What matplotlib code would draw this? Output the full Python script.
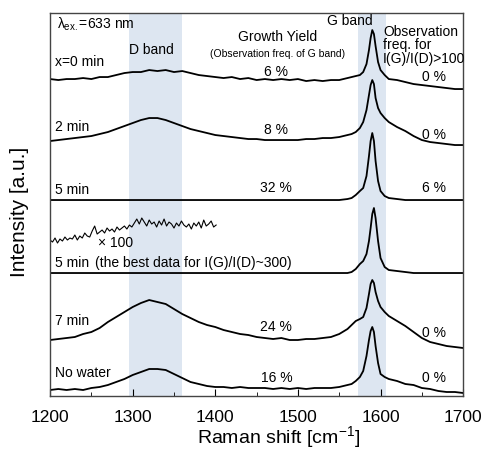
import matplotlib
matplotlib.use("Agg")
import matplotlib.pyplot as plt
from matplotlib.ticker import MultipleLocator

plt.rcParams['font.family'] = ['Liberation Sans', 'DejaVu Sans']
plt.rcParams['mathtext.fontset'] = 'custom'
plt.rcParams['mathtext.rm'] = 'Liberation Sans'
plt.rcParams['mathtext.it'] = 'Liberation Sans'

# Raman shift grid (cm-1), denser around the G band
shift = ([1200 + 10 * i for i in range(37)]
         + [1565, 1570, 1575, 1579, 1583, 1586, 1588, 1590, 1592, 1594, 1597, 1600, 1605, 1610]
         + [1620, 1630, 1640, 1650, 1660, 1670, 1680, 1690, 1700])

# stacked intensities [a.u.]
x0min = [317, 316, 317, 317, 318, 317, 319, 319, 321, 323, 324, 324, 326, 325, 326, 324, 325, 323,
         321, 320, 319, 318, 319, 317, 318, 316, 317, 316, 317, 316, 317, 315, 316, 315, 316, 316, 318,
         319, 320, 321, 324, 332, 346, 358, 366, 362, 350, 334, 326, 321, 317,
         316, 314, 312, 311, 310, 309, 308, 307, 307]
min2 = [255, 256, 257, 258, 259, 260, 262, 264, 267, 270, 273, 276, 278, 278, 276, 273, 270, 267,
        265, 263, 261, 260, 259, 258, 257, 257, 256, 256, 256, 256, 256, 257, 257, 258, 258, 259, 261,
        262, 264, 268, 274, 286, 301, 311, 316, 312, 298, 288, 283, 278, 274,
        269, 265, 260, 256, 254, 253, 252, 251, 251]
min5 = [196] * 36 + [197,
        198, 201, 205, 208, 220, 240, 255, 263, 255, 235, 215, 205, 200, 198,
        197, 196, 196, 196, 196, 196, 196, 196, 196]
min5_best = [123] * 36 + [123,
             124, 127, 132, 135, 142, 155, 168, 182, 188, 178, 155, 138, 129, 126,
             125, 124, 123, 123, 123, 123, 123, 123, 123]
min7 = [56, 57, 58, 59, 62, 64, 68, 74, 79, 84, 89, 93, 96, 94, 92, 87, 82, 78,
        74, 71, 69, 66, 64, 62, 61, 59, 58, 57, 58, 56, 56, 57, 57, 58, 59, 62, 67,
        71, 75, 77, 79, 88, 102, 112, 116, 113, 104, 95, 89, 84, 80,
        75, 70, 64, 58, 54, 52, 50, 49, 48]
no_water = [6, 7, 6, 7, 6, 8, 9, 11, 14, 17, 21, 24, 27, 27, 26, 22, 18, 14,
            12, 10, 9, 9, 8, 9, 8, 8, 8, 7, 8, 7, 8, 7, 8, 8, 8, 9, 11,
            12, 15, 19, 25, 40, 56, 65, 69, 64, 50, 33, 22, 19, 17,
            15, 12, 11, 8, 7, 5, 4, 4, 3]

# x100 magnified D band region of the best 5 min data
shift_x100 = [1200 + 3 * i for i in range(68)]
best_x100 = [156, 154, 158, 153, 157, 155, 159, 156, 158, 157, 161, 156, 160, 158, 163, 160,
             159, 165, 170, 162, 164, 166, 163, 168, 165, 167, 164, 169, 166, 168, 170, 167,
             171, 169, 173, 177, 172, 178, 174, 170, 176, 172, 174, 169, 175, 171, 177, 170,
             174, 172, 168, 173, 170, 175, 171, 169, 172, 167, 173, 170, 174, 168, 176, 170,
             172, 175, 169, 171]

series = [x0min, min2, min5, min5_best, min7, no_water]
sample_labels = ["x=0 min", "2 min", "5 min", "5 min", "7 min", "No water"]
growth_yield = ["6 %", "8 %", "32 %", None, "24 %", "16 %"]
ratio_freq = ["0 %", "0 %", "6 %", None, "0 %", "0 %"]
label_y = [334, 269, 206, 133, 75, 23]
yield_y = [324, 266, 208, None, 69, 18]
ratio_y = [319, 261, 208, None, 63, 18]

d_band = (1295, 1360)
g_band = (1573, 1607)

fig = plt.figure(figsize=(4.86, 4.5), dpi=100)
ax = fig.add_axes([0.103, 0.12, 0.850, 0.851])

shade = '#dde6f1'
ax.axvspan(*d_band, color=shade, lw=0, zorder=0)
ax.axvspan(*g_band, color=shade, lw=0, zorder=0)

for s in series:
    ax.plot(shift, s, color='black', lw=1.3)
ax.plot(shift_x100, best_x100, color='black', lw=0.8)

fs = 10
for lab, y in zip(sample_labels, label_y):
    ax.text(1206, y, lab, fontsize=fs, ha='left', va='center')
ax.text(1254, 133, "(the best data for I(G)/I(D)~300)", fontsize=fs, ha='left', va='center')
ax.text(1258, 153, "\u00d7 100", fontsize=fs, ha='left', va='center')

for t, y in zip(growth_yield, yield_y):
    if t:
        ax.text(1474, y, t, fontsize=fs, ha='center', va='center')
for t, y in zip(ratio_freq, ratio_y):
    if t:
        ax.text(1665, y, t, fontsize=fs, ha='center', va='center')

ax.text(1208, 372, r"$\lambda_{\mathrm{ex.}}$=633 nm", fontsize=fs, ha='left', va='center')
ax.text(1323, 346, "D band", fontsize=fs, ha='center', va='center')
ax.text(1475, 359, "Growth Yield", fontsize=fs, ha='center', va='center')
ax.text(1475, 342, "(Observation freq. of G band)", fontsize=7.5, ha='center', va='center')
ax.text(1563, 375, "G band", fontsize=fs, ha='center', va='center')
ax.text(1603, 371, "Observation\nfreq. for\nI(G)/I(D)>100", fontsize=fs, ha='left', va='top',
        linespacing=0.95)

ax.set_xlim(1200, 1700)
ax.set_ylim(0, 383)
ax.set_yticks([])
ax.xaxis.set_major_locator(MultipleLocator(100))
ax.xaxis.set_minor_locator(MultipleLocator(50))
ax.tick_params(axis='x', which='major', direction='in', length=5, labelsize=12.5, pad=10)
ax.tick_params(axis='x', which='minor', direction='in', length=3)
for sp in ax.spines.values():
    sp.set_color('#444444')
    sp.set_linewidth(1.0)

ax.set_xlabel(r"Raman shift [cm$^{\mathrm{-1}}$]", fontsize=14, va='center')
ax.xaxis.set_label_coords(0.554, -0.107)
ax.set_ylabel("Intensity [a.u.]", fontsize=15, va='center')
ax.yaxis.set_label_coords(-0.073, 0.48)

fig.savefig("out.png", dpi=100)
